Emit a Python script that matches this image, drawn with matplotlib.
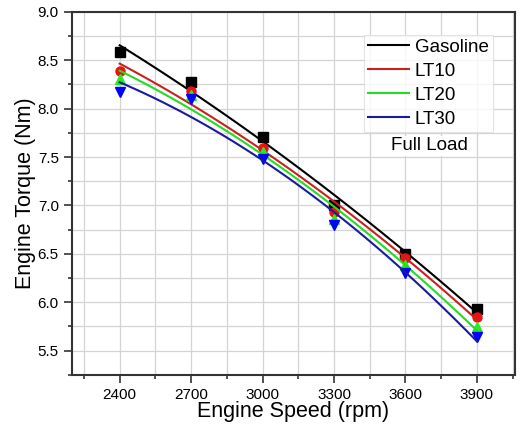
import numpy as np
import matplotlib
matplotlib.use("Agg")
import matplotlib.pyplot as plt
from matplotlib.ticker import MultipleLocator

plt.rcParams['font.family'] = ['Liberation Sans', 'DejaVu Sans']

speed = [2400, 2700, 3000, 3300, 3600, 3900]
gasoline = [8.59, 8.28, 7.71, 7.01, 6.50, 5.93]
lt10 = [8.39, 8.18, 7.59, 6.93, 6.46, 5.85]
lt20 = [8.31, 8.14, 7.55, 6.86, 6.39, 5.74]
lt30 = [8.17, 8.10, 7.48, 6.80, 6.30, 5.64]

labels = ['Gasoline', 'LT10', 'LT20', 'LT30']
series = [gasoline, lt10, lt20, lt30]
marker_colors = ['#000000', '#ee1111', '#22ee22', '#0000ff']
line_colors = ['#000000', '#cc2020', '#22dd22', '#1a1aa0']
markers = ['s', 'o', '^', 'v']

fig = plt.figure(figsize=(5.26, 4.25), dpi=100)
ax = fig.add_axes([0.137, 0.118, 0.842, 0.854])

xs = np.linspace(speed[0], speed[-1], 100)
for y, lab, mc, lc, m in zip(series, labels, marker_colors, line_colors, markers):
    coef = np.polyfit(speed, y, 2)
    ax.plot(speed, y, linestyle='none', marker=m, color=mc, markersize=6.5)
    ax.plot(xs, np.polyval(coef, xs), color=lc, lw=1.5, label=lab)

ax.set_xlim(2200, 4060)
ax.set_ylim(5.25, 9.0)
ax.xaxis.set_major_locator(MultipleLocator(300))
ax.xaxis.set_minor_locator(MultipleLocator(150))
ax.yaxis.set_major_locator(MultipleLocator(0.5))
ax.yaxis.set_minor_locator(MultipleLocator(0.25))
ax.set_xticks(speed)
ax.grid(True, which='both', color='#d4d4d4', lw=0.9)
ax.set_axisbelow(True)
ax.tick_params(which='both', direction='out', colors='#333333', labelcolor='black', labelsize=11)
ax.tick_params(which='major', length=6, width=1.2)
ax.tick_params(which='minor', length=3, width=1.2)
ax.yaxis.set_major_formatter(matplotlib.ticker.FormatStrFormatter('%.1f'))
for s in ax.spines.values():
    s.set_color('#333333')
    s.set_linewidth(1.5)

ax.set_xlabel('Engine Speed (rpm)', fontsize=15.5, labelpad=-1)
ax.set_ylabel('Engine Torque (Nm)', fontsize=15.5, labelpad=1)

leg = ax.legend(loc='upper right', bbox_to_anchor=(0.95, 0.937), fontsize=13.5,
                frameon=True, fancybox=False, handlelength=2.2, handletextpad=0.3,
                labelspacing=0.36, borderpad=0.22, borderaxespad=0, edgecolor='#dddddd')
leg.get_frame().set_linewidth(0.8)
ax.text(0.806, 0.631, 'Full Load', transform=ax.transAxes, ha='center', va='center',
        fontsize=13.5, bbox=dict(facecolor='white', edgecolor='none', pad=1))

fig.savefig('out.png', dpi=100)
